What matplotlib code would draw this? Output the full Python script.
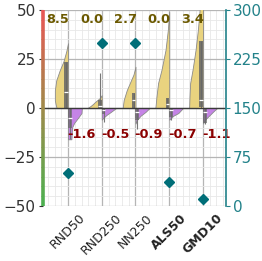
import numpy as np
import matplotlib
matplotlib.use('Agg')
import matplotlib.pyplot as plt
from matplotlib.collections import LineCollection
from matplotlib.colors import LinearSegmentedColormap
from matplotlib.ticker import MultipleLocator

models = ['RND50', 'RND250', 'NN250', 'ALS50', 'GMD10']
bold_models = ['ALS50', 'GMD10']
mean_gain = [8.5, 0.0, 2.7, 0.0, 3.4]
mean_loss = [-1.6, -0.5, -0.9, -0.7, -1.1]
counts = [50, 250, 250, 37, 10]

# half violin outlines (value level -> half width)
gain_levels = [
    [0, 2, 4, 9, 14, 19, 24, 29, 33],
    [0, 1, 2, 3, 4, 5, 6.5],
    [0, 4, 9, 13, 17, 21],
    [0, 5.6, 12.7, 19.4, 29.6, 40, 49],
    [0, 5.6, 12.7, 19.4, 29.6, 40, 50, 60],
]
gain_widths = [
    [0.34, 0.37, 0.39, 0.39, 0.35, 0.25, 0.13, 0.05, 0],
    [0.42, 0.33, 0.26, 0.2, 0.13, 0.06, 0],
    [0.38, 0.35, 0.26, 0.16, 0.06, 0],
    [0.41, 0.38, 0.33, 0.23, 0.11, 0.04, 0],
    [0.41, 0.4, 0.38, 0.31, 0.22, 0.15, 0.1, 0.05],
]
loss_levels = [
    [0, -2.6, -5, -7.7, -10, -16],
    [0, -1.9, -3.6, -5, -6],
    [0, -2, -4, -6, -8],
    [0, -2.6, -4, -6],
    [0, -1.9, -4.3, -6, -8],
]
loss_widths = [
    [0.41, 0.4, 0.3, 0.18, 0.12, 0.1],
    [0.43, 0.28, 0.14, 0.05, 0],
    [0.42, 0.3, 0.15, 0.05, 0],
    [0.41, 0.27, 0.12, 0],
    [0.42, 0.3, 0.16, 0.06, 0],
]

# box stats: whisker low, q1, median, q3, whisker high
gain_box = [
    [0, 0, 8.3, 23.6, 23.6],
    [0, 0, 1, 4, 18],
    [0, 0, 4, 7.6, 7.6],
    [0, 0, 2, 5, 5],
    [0, 0.5, 4, 34, 34],
]
loss_box = [
    [-16, -10, -5, 0, 0],
    [-7, -3, -1, 0, 0],
    [-11, -6, -2, 0, 0],
    [-6, -4.5, -1, 0, 0],
    [-8, -7.6, -2, 0, 0],
]

yellow = '#e9d37f'
purple = '#c584e6'
teal = '#23828a'
bw = 0.11

fig = plt.figure(figsize=(2.62, 2.61), dpi=100)
ax = fig.add_axes([0.163, 0.211, 0.698, 0.751])
x = np.arange(len(models))

for i in x:
    lv = np.array(gain_levels[i]); wd = np.array(gain_widths[i])
    ax.fill_betweenx(lv, i - wd, i, facecolor=yellow, edgecolor='#8a8a8a', lw=0.6, zorder=3)
    lv = np.array(loss_levels[i]); wd = np.array(loss_widths[i])
    ax.fill_betweenx(lv, i, i + wd, facecolor=purple, edgecolor='#8a8a8a', lw=0.6, zorder=3)

    lo, q1, med, q3, hi = gain_box[i]
    ax.vlines(i - bw / 2, lo, hi, color='#777777', lw=0.8, zorder=4)
    ax.bar(i - bw / 2, q3 - q1, width=bw, bottom=q1, color='#666666', alpha=0.85, zorder=4)
    ax.hlines(med, i - bw, i, color='white', lw=0.9, zorder=5)

    lo, q1, med, q3, hi = loss_box[i]
    ax.vlines(i + bw / 2, lo, hi, color='#777777', lw=0.8, zorder=4)
    ax.bar(i + bw / 2, q3 - q1, width=bw, bottom=q1, color='#666666', alpha=0.7, zorder=4)
    ax.hlines(med, i, i + bw, color='white', lw=0.9, zorder=5)

    ax.text(i - 0.3, 45, f'{mean_gain[i]:.1f}', color='#6b5900', fontsize=9.3,
            fontweight='bold', ha='center', va='center', zorder=6)
    ax.text(i + 0.4, -13.8, f'{mean_loss[i]:.1f}', color='#8b0000', fontsize=9.3,
            fontweight='bold', ha='center', va='center', zorder=6)

ax.axhline(0, color='#3a3a3a', lw=1, zorder=4)

ax.set_xlim(-0.75, 4.67)
ax.set_ylim(-50, 50)
ax.yaxis.set_major_locator(MultipleLocator(25))
ax.yaxis.set_minor_locator(MultipleLocator(5))
ax.xaxis.set_minor_locator(MultipleLocator(0.2))
ax.set_xticks(x)
ax.set_xticklabels(models, rotation=45, fontsize=9)
for lab in ax.get_xticklabels():
    if lab.get_text() in bold_models:
        lab.set_fontweight('bold')
ax.tick_params(axis='x', which='both', length=0, pad=4, colors='#222222')
ax.tick_params(axis='y', which='major', length=3, labelsize=11, pad=2, colors='#333333')
ax.tick_params(axis='y', which='minor', length=1.8, colors='#666666')
ax.grid(True, which='major', color='#b5b5b5', lw=0.9, zorder=0)
ax.grid(True, which='minor', color='#e8e8e8', lw=0.6, zorder=0)
ax.set_axisbelow(True)
for s in ['top', 'bottom', 'left', 'right']:
    ax.spines[s].set_visible(False)

# gradient left spine
cmap = LinearSegmentedColormap.from_list('gr', ['#4cb050', '#a08a4a', '#ea5656'])
ys = np.linspace(0, 1, 100)
segs = [[(0, ys[k]), (0, ys[k + 1])] for k in range(len(ys) - 1)]
lc = LineCollection(segs, colors=cmap(ys[:-1]), lw=2.6, transform=ax.transAxes,
                    clip_on=False, zorder=7, capstyle='butt')
ax.add_collection(lc)

ax2 = ax.twinx()
ax2.plot(x, counts, linestyle='none', marker='D', markersize=4.8, color='#006e78', zorder=8)
ax2.set_ylim(0, 300)
ax2.set_yticks([0, 75, 150, 225, 300])
ax2.tick_params(axis='y', length=3, labelsize=11, pad=2, colors=teal)
for s in ['top', 'bottom', 'left']:
    ax2.spines[s].set_visible(False)
ax2.spines['right'].set_color(teal)
ax2.spines['right'].set_linewidth(1.2)

fig.savefig('out.png', dpi=100)
